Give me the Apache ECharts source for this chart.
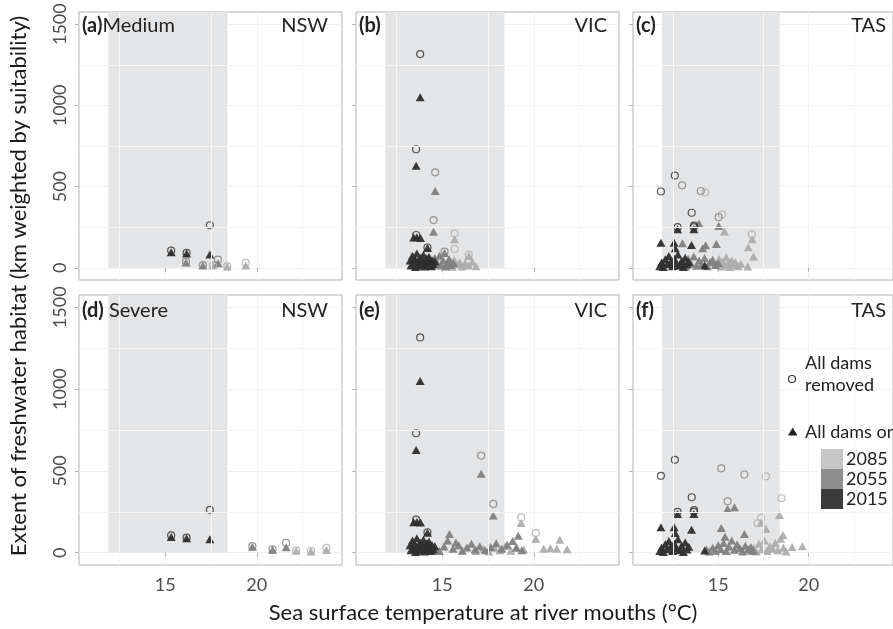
<!DOCTYPE html>
<html>
<head>
<meta charset="utf-8">
<script src="https://cdn.jsdelivr.net/npm/echarts@6/dist/echarts.min.js"></script>
<style>
  html, body { margin: 0; padding: 0; background: #fff; }
  #chart { width: 893px; height: 629px; }
</style>
</head>
<body>
<div id="chart"></div>
<script>
// ---- data: [sea surface temperature (degC), habitat extent] ----
// NSW (2015 baseline is the same in both scenarios)
var nswTri2015 = [[15.33, 96], [16.17, 88], [17.44, 82]];
var nswCirc2015 = [[15.33, 106], [16.17, 92], [17.44, 262]];
var nswMedTri2055 = [[16.14, 32], [17.06, 14], [17.88, 28]];
var nswMedCirc2055 = [[16.14, 38], [17.06, 17], [17.88, 50]];
var nswMedTri2085 = [[17.61, 14], [18.39, 8], [19.4, 14]];
var nswMedCirc2085 = [[17.61, 16], [18.39, 10], [19.4, 30]];
var nswSevTri2055 = [[19.76, 37], [20.86, 18], [21.6, 33]];
var nswSevCirc2055 = [[19.76, 40], [20.86, 20], [21.6, 60]];
var nswSevTri2085 = [[22.15, 12], [22.96, 8], [23.8, 16]];
var nswSevCirc2085 = [[22.15, 14], [22.96, 10], [23.8, 30]];

// VIC
var vicTri2015 = [[13.8, 1050], [13.58, 628], [13.45, 186], [13.62, 188], [13.82, 184], [14.2, 122],
  [13.25, 45], [13.3, 15], [13.38, 75], [13.45, 28], [13.5, 55], [13.55, 5], [13.62, 88], [13.68, 38],
  [13.74, 12], [13.8, 62], [13.86, 22], [13.92, 48], [13.98, 80], [14.04, 8], [14.1, 32], [14.16, 58],
  [14.22, 18], [14.28, 68], [14.34, 36], [14.4, 10], [14.45, 46], [14.52, 22], [14.6, 40]];
var vicCirc2015 = [[13.8, 1316], [13.58, 730], [13.58, 202], [14.2, 125]];
var vicMedTri2055 = [[14.62, 473], [14.53, 222], [15.13, 92], [14.1, 30], [14.3, 50], [14.45, 12],
  [14.6, 60], [14.72, 28], [14.85, 75], [14.95, 15], [15.05, 45], [15.18, 8], [15.28, 32], [15.38, 55],
  [15.5, 18], [15.62, 30]];
var vicMedCirc2055 = [[14.62, 588], [14.53, 294], [15.13, 100]];
var vicMedTri2085 = [[15.68, 176], [16.45, 73], [15.25, 12], [15.42, 32], [15.55, 6], [15.66, 48],
  [15.8, 20], [15.95, 35], [16.08, 8], [16.25, 28], [16.45, 14], [16.65, 38], [16.85, 10]];
var vicMedCirc2085 = [[15.68, 212], [15.68, 116], [16.45, 80]];
var vicSevTri2055 = [[17.13, 482], [17.79, 227], [15.4, 114], [15.75, 62], [14.55, 20], [14.85, 10],
  [15.1, 38], [15.3, 75], [15.6, 25], [15.9, 45], [16.1, 12], [16.35, 32], [16.6, 55], [16.8, 20],
  [17.05, 40], [17.35, 15], [17.65, 35], [17.95, 58], [18.25, 25], [18.55, 48], [18.85, 72],
  [19.15, 104], [19.05, 30], [19.35, 15]];
var vicSevCirc2055 = [[17.13, 594], [17.79, 298]];
var vicSevTri2085 = [[19.31, 182], [20.11, 84], [20.54, 25], [20.9, 28], [21.25, 25], [21.42, 80],
  [21.82, 22], [16.85, 10], [17.25, 25], [17.55, 8], [17.85, 30], [18.15, 15], [18.45, 40],
  [18.75, 12], [19.05, 35], [19.45, 20]];
var vicSevCirc2085 = [[19.31, 216], [20.11, 120]];

// TAS
var tasTri2015 = [[12.76, 237], [13.66, 237], [11.84, 155], [12.57, 155], [13.53, 141], [12.63, 121],
  [11.78, 10], [11.88, 32], [11.98, 5], [12.08, 52], [12.18, 22], [12.28, 72], [12.38, 36], [12.48, 10],
  [12.58, 56], [12.68, 26], [12.78, 82], [12.88, 15], [12.98, 42], [13.08, 5], [13.18, 62], [13.28, 20],
  [13.38, 36], [14.26, 14]];
var tasCirc2015 = [[11.84, 470], [12.61, 568], [13.54, 339], [13.67, 260], [12.76, 250], [13.66, 250]];
var tasMedTri2055 = [[13.94, 273], [15.03, 257], [14.9, 147], [13.03, 152], [14.31, 139], [14.15, 120],
  [12.9, 15], [13.05, 40], [13.2, 8], [13.35, 55], [13.5, 25], [13.65, 70], [13.8, 12], [13.95, 45],
  [14.1, 22], [14.25, 60], [14.4, 10], [14.55, 35], [14.7, 50], [14.85, 18], [15.0, 30]];
var tasMedCirc2055 = [[13.01, 508], [14.04, 473], [15.03, 312]];
var tasMedTri2085 = [[15.35, 223], [16.88, 176], [16.66, 127], [16.95, 69], [16.63, 8], [14.95, 20],
  [15.05, 55], [15.15, 8], [15.25, 40], [15.35, 15], [15.45, 65], [15.55, 28], [15.65, 5], [15.75, 45],
  [15.85, 20], [15.95, 35], [16.1, 10], [16.25, 25]];
var tasMedCirc2085 = [[14.29, 463], [15.21, 328], [16.86, 206]];
var tasSevTri2055 = [[15.52, 267], [15.9, 278], [15.17, 151], [16.45, 114], [15.38, 98], [14.35, 20],
  [14.5, 8], [14.7, 30], [14.85, 12], [15.0, 45], [15.15, 22], [15.3, 60], [15.45, 10], [15.6, 38],
  [15.75, 75], [15.9, 18], [16.05, 50], [16.2, 28], [16.35, 8], [16.5, 42], [16.65, 20], [16.8, 35],
  [16.95, 12]];
var tasSevCirc2055 = [[15.17, 516], [15.52, 314], [16.45, 478]];
var tasSevTri2085 = [[18.38, 231], [17.37, 183], [17.64, 145], [18.58, 108], [19.08, 35], [19.65, 40],
  [16.8, 12], [16.95, 30], [17.1, 8], [17.25, 55], [17.4, 20], [17.55, 75], [17.7, 10], [17.85, 40],
  [18.0, 25], [18.15, 60], [18.3, 15], [18.45, 85], [18.6, 30], [18.75, 8]];
var tasSevCirc2085 = [[17.64, 467], [18.5, 333], [17.37, 213], [17.18, 180]];

// shaded band (current SST range) and ticks
var bandRange = [11.9, 18.4];
var xTicks = [15, 20];
var xMinor = [12.5, 17.5, 22.5];
var yTicks = [0, 500, 1000, 1500];
var yMinor = [250, 750, 1250];
var yearLabels = ['2085', '2055', '2015'];

var FONT = 'Lato, "Open Sans", sans-serif';
var yearColor = { '2015': '#2e2e2e', '2055': '#7f7f7f', '2085': '#adadad' };
var keyColor = { '2015': '#3b3b3b', '2055': '#8e8e8e', '2085': '#c6c6c6' };

var panels = [
  { tag: '(a)', name: 'Medium', state: 'NSW', left: 79, top: 12, h: 268, yLab: true, xLab: false,
    tri: [nswMedTri2085, nswMedTri2055, nswTri2015], circ: [nswMedCirc2085, nswMedCirc2055, nswCirc2015] },
  { tag: '(b)', name: '', state: 'VIC', left: 356, top: 12, h: 268, yLab: false, xLab: false,
    tri: [vicMedTri2085, vicMedTri2055, vicTri2015], circ: [vicMedCirc2085, vicMedCirc2055, vicCirc2015] },
  { tag: '(c)', name: '', state: 'TAS', left: 633, top: 12, h: 268, yLab: false, xLab: false,
    tri: [tasMedTri2085, tasMedTri2055, tasTri2015], circ: [tasMedCirc2085, tasMedCirc2055, tasCirc2015] },
  { tag: '(d)', name: ' Severe', state: 'NSW', left: 79, top: 295, h: 270, yLab: true, xLab: true,
    tri: [nswSevTri2085, nswSevTri2055, nswTri2015], circ: [nswSevCirc2085, nswSevCirc2055, nswCirc2015] },
  { tag: '(e)', name: '', state: 'VIC', left: 356, top: 295, h: 270, yLab: false, xLab: true,
    tri: [vicSevTri2085, vicSevTri2055, vicTri2015], circ: [vicSevCirc2085, vicSevCirc2055, vicCirc2015] },
  { tag: '(f)', name: '', state: 'TAS', left: 633, top: 295, h: 270, yLab: false, xLab: true,
    tri: [tasSevTri2085, tasSevTri2055, tasTri2015], circ: [tasSevCirc2085, tasSevCirc2055, tasCirc2015] }
];
var stateRight = { 'NSW': 328, 'VIC': 607, 'TAS': 886 };

var myChart = echarts.init(document.getElementById('chart'));

var grids = [], xAxes = [], yAxes = [], series = [], graphics = [];

panels.forEach(function (p, i) {
  grids.push({ left: p.left, top: p.top, width: 263, height: p.h, show: true,
    borderColor: '#b3b3b3', borderWidth: 1, backgroundColor: '#fff' });

  xAxes.push({
    type: 'value', gridIndex: i, min: 10.3, max: 24.65,
    axisLine: { show: false },
    axisTick: { show: true, customValues: xTicks, length: 4, lineStyle: { color: '#b3b3b3' } },
    axisLabel: { show: p.xLab, customValues: xTicks, fontSize: 18, color: '#4d4d4d', margin: 11, fontFamily: FONT },
    splitLine: { show: true, lineStyle: { color: '#f0f0f0', width: 1 } }
  });
  yAxes.push({
    type: 'value', gridIndex: i, min: -75, max: 1575,
    axisLine: { show: false },
    axisTick: { show: true, customValues: yTicks, length: 4, lineStyle: { color: '#b3b3b3' } },
    axisLabel: { show: p.yLab, customValues: yTicks, rotate: 90, fontSize: 18, color: '#4d4d4d', margin: 10,
      fontFamily: FONT, formatter: function (v) { return String(v); } },
    splitLine: { show: true, lineStyle: { color: '#f0f0f0', width: 1 } }
  });

  // minor grid + shaded band
  series.push({
    type: 'scatter', xAxisIndex: i, yAxisIndex: i, data: [], silent: true, z: 1,
    markLine: {
      silent: true, symbol: 'none', label: { show: false },
      lineStyle: { color: '#f6f6f6', width: 1, type: 'solid' },
      data: xMinor.map(function (v) { return { xAxis: v }; })
        .concat(yMinor.map(function (v) { return { yAxis: v }; }))
    }
  });
  series.push({
    type: 'scatter', xAxisIndex: i, yAxisIndex: i, data: [], silent: true, z: 2,
    markArea: {
      silent: true, itemStyle: { color: '#e4e5e7' },
      data: [[{ xAxis: bandRange[0], yAxis: 0 }, { xAxis: bandRange[1], yAxis: 1575 }]]
    }
  });

  p.tri.forEach(function (d, k) {
    series.push({
      type: 'scatter', xAxisIndex: i, yAxisIndex: i, data: d, z: 3,
      symbol: 'triangle', symbolSize: [9, 8],
      itemStyle: { color: yearColor[yearLabels[k]], opacity: 0.95 }
    });
  });
  p.circ.forEach(function (d, k) {
    series.push({
      type: 'scatter', xAxisIndex: i, yAxisIndex: i, data: d, z: 4,
      symbol: 'circle', symbolSize: 7,
      itemStyle: { color: 'rgba(0,0,0,0)', borderColor: yearColor[yearLabels[k]], borderWidth: 1.2 }
    });
  });

  var ly = p.top + (p.top < 100 ? 14 : 16);
  graphics.push({
    type: 'text', x: p.left + 3, y: ly, z: 10,
    style: { text: '{b|' + p.tag + '}' + p.name, fill: '#222', font: '20px ' + FONT,
      textVerticalAlign: 'middle', rich: { b: { fontWeight: 'bold', fontSize: 20, fontFamily: FONT, fill: '#222' } } }
  });
  graphics.push({
    type: 'text', x: stateRight[p.state], y: ly, z: 10,
    style: { text: p.state, fill: '#222', font: '20px ' + FONT, textAlign: 'right', textVerticalAlign: 'middle' }
  });
});

// axis titles
graphics.push({
  type: 'text', x: 483, y: 613, z: 10,
  style: { text: 'Sea surface temperature at river mouths (°C)', fill: '#1a1a1a', font: '22px ' + FONT,
    textAlign: 'center', textVerticalAlign: 'middle' }
});
graphics.push({
  type: 'text', x: 19, y: 286, rotation: Math.PI / 2, z: 10,
  style: { text: 'Extent of freshwater habitat (km weighted by suitability)', fill: '#1a1a1a',
    font: '22px ' + FONT, textAlign: 'center', textVerticalAlign: 'middle' }
});

// legend
graphics.push({ type: 'circle', z: 20, shape: { cx: 792, cy: 379, r: 3.5 },
  style: { fill: 'none', stroke: '#333', lineWidth: 1.2 } });
graphics.push({ type: 'text', x: 805, y: 363, z: 20,
  style: { text: 'All dams', fill: '#222', font: '18px ' + FONT, textVerticalAlign: 'middle' } });
graphics.push({ type: 'text', x: 805, y: 385, z: 20,
  style: { text: 'removed', fill: '#222', font: '18px ' + FONT, textVerticalAlign: 'middle' } });
graphics.push({ type: 'polygon', z: 20, shape: { points: [[788, 435.5], [797.5, 435.5], [792.7, 427.5]] },
  style: { fill: '#222' } });
graphics.push({ type: 'text', x: 805, y: 432, z: 20,
  style: { text: 'All dams on', fill: '#222', font: '18px ' + FONT, textVerticalAlign: 'middle' } });
yearLabels.forEach(function (yr, k) {
  graphics.push({ type: 'rect', z: 20, shape: { x: 821, y: 449 + k * 20, width: 22, height: 20 },
    style: { fill: keyColor[yr] } });
  graphics.push({ type: 'text', x: 846, y: 459 + k * 20, z: 20,
    style: { text: yr, fill: '#222', font: '18px ' + FONT, textVerticalAlign: 'middle' } });
});

var option = {
  animation: false,
  backgroundColor: '#fff',
  grid: grids,
  xAxis: xAxes,
  yAxis: yAxes,
  series: series,
  graphic: graphics
};
myChart.setOption(option);
</script>
</body>
</html>
